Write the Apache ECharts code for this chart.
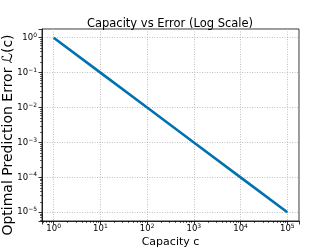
<!DOCTYPE html>
<html>
<head>
<meta charset="utf-8">
<script src="https://cdn.jsdelivr.net/npm/echarts@6/dist/echarts.min.js"></script>
<style>html,body{margin:0;padding:0;background:#fff}#c{width:332px;height:249px}</style>
</head>
<body>
<div id="c"></div>
<script>
const capacity = [1, 10, 100, 1000, 10000, 100000];
const error = [1, 0.1, 0.01, 0.001, 0.0001, 0.00001];
const titleText = 'Capacity vs Error (Log Scale)';
const xName = 'Capacity c';
const yName = 'Optimal Prediction Error \u2112(c)';

const FONT = 'DejaVu Sans';
function fmt(v) {
  const e = Math.log10(v);
  const r = Math.round(e);
  if (Math.abs(e - r) > 1e-6) return '';
  const s = r < 0 ? '\u2212' + (-r) : String(r);
  return '{b|10}{e|' + s + '}';
}
const rich = {
  b: {fontFamily: FONT, fontSize: 8.5, color: '#000', lineHeight: 11},
  e: {fontFamily: FONT, fontSize: 6, color: '#000', lineHeight: 6, verticalAlign: 'top'}
};
const chart = echarts.init(document.getElementById('c'), null, {renderer: 'canvas'});
chart.setOption({
  animation: false,
  backgroundColor: '#fff',
  title: {text: titleText, left: 165, top: 13, textAlign: 'center',
    textStyle: {fontFamily: FONT, fontSize: 11.5, fontWeight: 'normal', color: '#000'}},
  grid: {left: 42, right: 33, top: 29, bottom: 28, show: true, borderColor: '#000', borderWidth: 0.8,
    outerBoundsMode: 'none', containLabel: false},
  xAxis: {type: 'log', logBase: 10, min: Math.pow(10, -0.25), max: Math.pow(10, 5.25),
    name: xName, nameLocation: 'middle', nameGap: 15, nameMoveOverlap: false,
    nameTextStyle: {fontFamily: FONT, fontSize: 11, color: '#000', lineHeight: 13},
    axisLine: {lineStyle: {color: '#000', width: 0.8}},
    axisTick: {show: true, length: 3.5, lineStyle: {color: '#000', width: 0.8}},
    minorTick: {show: true, splitNumber: 9, length: 2, lineStyle: {color: '#000', width: 0.6}},
    axisLabel: {formatter: fmt, rich: rich, margin: 2, showMinLabel: false, showMaxLabel: false},
    splitLine: {show: true, lineStyle: {color: '#b0b0b0', width: 0.8, type: [1, 1.5]}}
  },
  yAxis: {type: 'log', logBase: 10, min: Math.pow(10, -5.25), max: Math.pow(10, 0.25),
    name: yName, nameLocation: 'middle', nameGap: 26, nameMoveOverlap: false,
    nameTextStyle: {fontFamily: FONT, fontSize: 14, color: '#000', lineHeight: 16, padding: [0, 20, 0, 0]},
    axisLine: {show: true, lineStyle: {color: '#000', width: 0.8}},
    axisTick: {show: true, length: 3.5, lineStyle: {color: '#000', width: 0.8}},
    minorTick: {show: true, splitNumber: 9, length: 2, lineStyle: {color: '#000', width: 0.6}},
    axisLabel: {formatter: fmt, rich: rich, margin: 5, showMinLabel: false, showMaxLabel: false},
    splitLine: {show: true, lineStyle: {color: '#b0b0b0', width: 0.8, type: [1, 1.5]}}
  },
  series: [{type: 'line', data: capacity.map((c, i) => [c, error[i]]), showSymbol: false,
    lineStyle: {color: '#0072B2', width: 2.6}}]
});
</script>
</body>
</html>
